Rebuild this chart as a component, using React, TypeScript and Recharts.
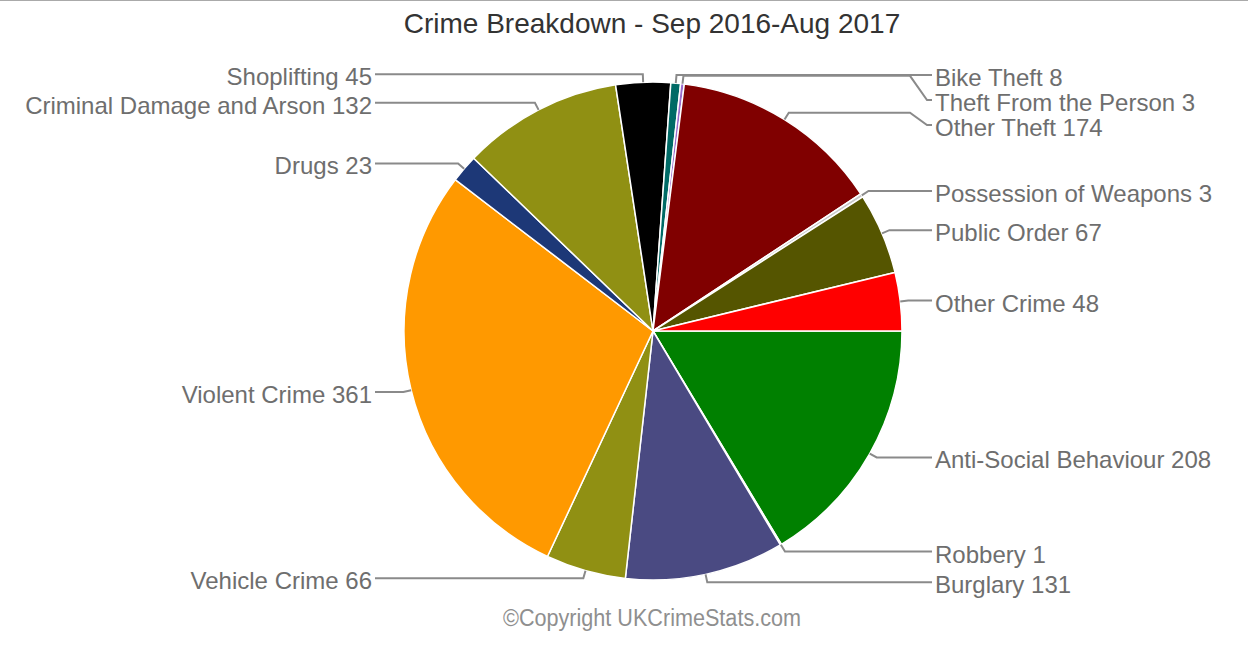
import { Cell, Pie, PieChart } from 'recharts';

const categories = [
  'Anti-Social Behaviour',
  'Robbery',
  'Burglary',
  'Vehicle Crime',
  'Violent Crime',
  'Drugs',
  'Criminal Damage and Arson',
  'Shoplifting',
  'Bike Theft',
  'Theft From the Person',
  'Other Theft',
  'Possession of Weapons',
  'Public Order',
  'Other Crime',
];
const counts = [208, 1, 131, 66, 361, 23, 132, 45, 8, 3, 174, 3, 67, 48];
const colors = [
  '#008000', '#d0d0d0', '#4a4a82', '#909013', '#ff9900', '#1d3877', '#909013',
  '#000000', '#006a66', '#9a6ccc', '#800000', '#c8c8c8', '#555500', '#ff0000',
];

const data = categories.map((name, i) => ({ name, value: counts[i] }));

const W = 1248;
const H = 648;
const CX = 653;
const CY = 331;
const R = 249;
const RAD = Math.PI / 180;
const BREAK = 8;
const LABEL_GAP = 32;
const LINE_H = 25;

// clockwise angle (deg from 3 o'clock) of each slice middle, same order as the pie
const total = counts.reduce((s, v) => s + v, 0);
const midDeg = counts.map((v, i) => ((counts.slice(0, i).reduce((s, x) => s + x, 0) + v / 2) / total) * 360);

// push labels apart on each side so they don't overlap
function layoutLabels(cy: number, r: number) {
  const ys: number[] = new Array(counts.length).fill(0);
  const items = midDeg.map((d, i) => ({
    i,
    right: Math.cos(d * RAD) >= 0,
    y: cy + (r + BREAK) * Math.sin(d * RAD),
  }));
  [true, false].forEach((side) => {
    const group = items.filter((it) => it.right === side).sort((a, b) => a.y - b.y);
    let prev = -Infinity;
    group.forEach((it) => {
      const y = Math.max(it.y, prev + LINE_H);
      ys[it.i] = y;
      prev = y;
    });
    let next = Infinity;
    for (let k = group.length - 1; k >= 0; k--) {
      const it = group[k];
      const y = Math.min(ys[it.i], next - LINE_H, H - 60);
      ys[it.i] = y;
      next = y;
    }
  });
  return ys;
}

const renderLabel = (props: any) => {
  const { cx, cy, outerRadius, midAngle, index } = props;
  const ys = layoutLabels(cy, outerRadius);
  const a = -midAngle * RAD;
  const cos = Math.cos(a);
  const sin = Math.sin(a);
  const right = cos >= 0;
  const dir = right ? 1 : -1;
  const bx = cx + outerRadius * cos;
  const by = cy + outerRadius * sin;
  const kx = cx + (outerRadius + BREAK) * cos;
  const ky = cy + (outerRadius + BREAK) * sin;
  const labelX = cx + dir * (outerRadius + LABEL_GAP + (right ? 1 : 0));
  const ly = ys[index];
  const crookX = right ? Math.max(kx, labelX - 25) : Math.min(kx, labelX + 25);
  const d = `M${bx},${by} L${kx},${ky} L${crookX},${ky} L${labelX - dir * 8},${ly} L${labelX - dir * 3},${ly}`;
  return (
    <g key={`lbl-${index}`}>
      <path d={d} fill="none" stroke="#8a8a8a" strokeWidth={2} />
      <text
        x={labelX}
        y={ly + 11}
        textAnchor={right ? 'start' : 'end'}
        fontSize={24}
        fontFamily="'Liberation Sans', Arial, Helvetica, sans-serif"
        fill="#6e6e6e"
      >
        {`${categories[index]} ${counts[index]}`}
      </text>
    </g>
  );
};

export default function App() {
  return (
    <div
      style={{
        position: 'absolute',
        left: 0,
        top: 0,
        width: W,
        height: H,
        background: '#ffffff',
        borderTop: '1px solid #aaaaaa',
        boxSizing: 'border-box',
        overflow: 'hidden',
      }}
    >
      <PieChart width={W} height={H - 1} margin={{ top: 0, right: 0, bottom: 0, left: 0 }}>
        <Pie
          data={data}
          dataKey="value"
          nameKey="name"
          cx={CX}
          cy={CY - 1}
          outerRadius={R}
          startAngle={0}
          endAngle={-360}
          stroke="#ffffff"
          strokeWidth={1.5}
          label={renderLabel}
          labelLine={false}
          isAnimationActive={false}
        >
          {data.map((_, i) => (
            <Cell key={i} fill={colors[i]} />
          ))}
        </Pie>
      </PieChart>
      <svg width={W} height={H} style={{ position: 'absolute', left: 0, top: -1, pointerEvents: 'none' }}>
        <text
          x={652}
          y={33}
          textAnchor="middle"
          fontSize={28}
          fontFamily="'Liberation Sans', Arial, Helvetica, sans-serif"
          fill="#333333"
        >
          Crime Breakdown - Sep 2016-Aug 2017
        </text>
        <text
          x={652}
          y={626}
          textAnchor="middle"
          fontSize={23}
          fontFamily="'Liberation Sans Narrow', 'Arial Narrow', 'Liberation Sans', Arial, sans-serif"
          fill="#8f8f8f"
          textLength={298}
          lengthAdjust="spacingAndGlyphs"
        >
          ©Copyright UKCrimeStats.com
        </text>
      </svg>
    </div>
  );
}
